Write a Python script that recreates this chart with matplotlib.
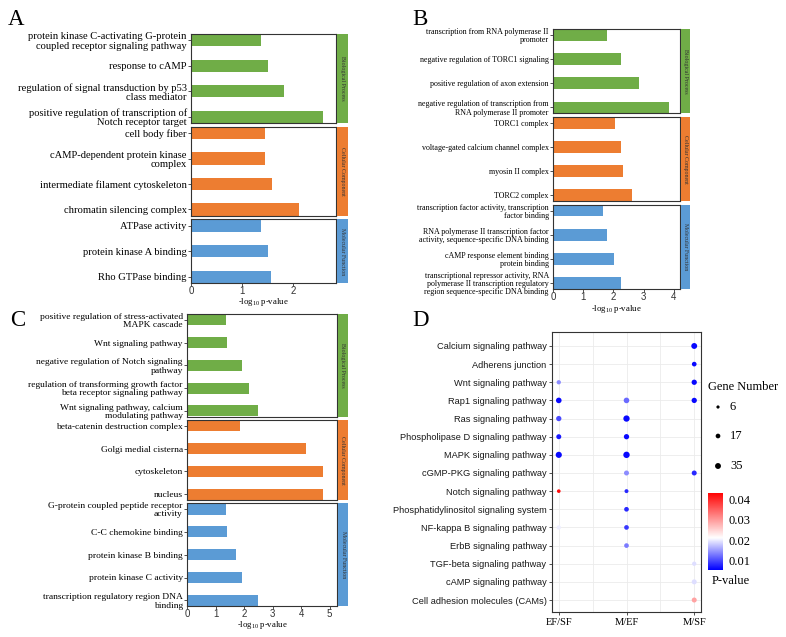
import numpy as np
import matplotlib
matplotlib.use("Agg")
import matplotlib.pyplot as plt
from matplotlib.colors import LinearSegmentedColormap, TwoSlopeNorm

plt.rcParams['font.family'] = ['Liberation Serif', 'DejaVu Serif']
plt.rcParams['mathtext.fontset'] = 'custom'
plt.rcParams['mathtext.rm'] = 'Liberation Serif'
plt.rcParams['mathtext.default'] = 'regular'

W, H = 786, 637
SANS = 'Liberation Sans'
GREEN, ORANGE, BLUE = '#70AD47', '#ED7D31', '#5B9BD5'
FACET_NAMES = ['Biological Process', 'Cellular Component', 'Molecular Function']

# ---- panel A data
a_bp = ["protein kinase C-activating G-protein\ncoupled receptor signaling pathway",
        "response to cAMP",
        "regulation of signal transduction by p53\nclass mediator",
        "positive regulation of transcription of\nNotch receptor target"]
a_bp_val = [1.37, 1.51, 1.83, 2.58]
a_cc = ["cell body fiber", "cAMP-dependent protein kinase\ncomplex",
        "intermediate filament cytoskeleton", "chromatin silencing complex"]
a_cc_val = [1.44, 1.44, 1.58, 2.12]
a_mf = ["ATPase activity", "protein kinase A binding", "Rho GTPase binding"]
a_mf_val = [1.37, 1.51, 1.56]

# ---- panel B data
b_bp = ["transcription from RNA polymerase II\npromoter",
        "negative regulation of TORC1 signaling",
        "positive regulation of axon extension",
        "negative regulation of transcription from\nRNA polymerase II promoter"]
b_bp_val = [1.80, 2.25, 2.84, 3.83]
b_cc = ["TORC1 complex", "voltage-gated calcium channel complex",
        "myosin II complex", "TORC2 complex"]
b_cc_val = [2.05, 2.25, 2.32, 2.62]
b_mf = ["transcription factor activity, transcription\nfactor binding",
        "RNA polymerase II transcription factor\nactivity, sequence-specific DNA binding",
        "cAMP response element binding\nprotein binding",
        "transcriptional repressor activity, RNA\npolymerase II transcription regulatory\nregion sequence-specific DNA binding"]
b_mf_val = [1.65, 1.80, 2.03, 2.24]

# ---- panel C data
c_bp = ["positive regulation of stress-activated\nMAPK cascade",
        "Wnt signaling pathway",
        "negative regulation of Notch signaling\npathway",
        "regulation of transforming growth factor\nbeta receptor signaling pathway",
        "Wnt signaling pathway, calcium\nmodulating pathway"]
c_bp_val = [1.36, 1.40, 1.93, 2.19, 2.48]
c_cc = ["beta-catenin destruction complex", "Golgi medial cisterna",
        "cytoskeleton", "nucleus"]
c_cc_val = [1.87, 4.17, 4.78, 4.78]
c_mf = ["G-protein coupled peptide receptor\nactivity", "C-C chemokine binding",
        "protein kinase B binding", "protein kinase C activity",
        "transcription regulatory region DNA\nbinding"]
c_mf_val = [1.36, 1.40, 1.72, 1.92, 2.48]

# ---- panel D data
pathways = ["Calcium signaling pathway", "Adherens junction", "Wnt signaling pathway",
            "Rap1 signaling pathway", "Ras signaling pathway",
            "Phospholipase D signaling pathway", "MAPK signaling pathway",
            "cGMP-PKG signaling pathway", "Notch signaling pathway",
            "Phosphatidylinositol signaling system", "NF-kappa B signaling pathway",
            "ErbB signaling pathway", "TGF-beta signaling pathway",
            "cAMP signaling pathway", "Cell adhesion molecules (CAMs)"]
groups = ["EF/SF", "M/EF", "M/SF"]
d_path = ["Calcium signaling pathway", "Adherens junction",
          "Wnt signaling pathway", "Wnt signaling pathway",
          "Rap1 signaling pathway", "Rap1 signaling pathway", "Rap1 signaling pathway",
          "Ras signaling pathway", "Ras signaling pathway",
          "Phospholipase D signaling pathway", "Phospholipase D signaling pathway",
          "MAPK signaling pathway", "MAPK signaling pathway",
          "cGMP-PKG signaling pathway", "cGMP-PKG signaling pathway",
          "Notch signaling pathway", "Notch signaling pathway",
          "Phosphatidylinositol signaling system",
          "NF-kappa B signaling pathway", "NF-kappa B signaling pathway",
          "ErbB signaling pathway", "TGF-beta signaling pathway",
          "cAMP signaling pathway", "Cell adhesion molecules (CAMs)"]
d_group = ["M/SF", "M/SF",
           "EF/SF", "M/SF",
           "EF/SF", "M/EF", "M/SF",
           "EF/SF", "M/EF",
           "EF/SF", "M/EF",
           "EF/SF", "M/EF",
           "M/EF", "M/SF",
           "EF/SF", "M/EF",
           "M/EF",
           "EF/SF", "M/EF",
           "M/EF", "M/SF",
           "M/SF", "M/SF"]
d_genes = [35, 17,
           13, 25,
           30, 30, 25,
           25, 43,
           21, 25,
           40, 45,
           21, 21,
           8, 10,
           17,
           13, 17,
           17, 13,
           21, 21]
d_pval = [0.006, 0.006,
          0.014, 0.006,
          0.006, 0.012, 0.006,
          0.010, 0.006,
          0.007, 0.006,
          0.006, 0.006,
          0.014, 0.008,
          0.042, 0.008,
          0.008,
          0.020, 0.009,
          0.013, 0.019,
          0.019, 0.029]
legend_genes = [6, 17, 35]
cbar_ticks = [0.01, 0.02, 0.03, 0.04]

fig = plt.figure(figsize=(W / 100, H / 100), dpi=100)


def px_axes(x0, y0, x1, y1):
    return fig.add_axes([x0 / W, 1 - y1 / H, (x1 - x0) / W, (y1 - y0) / H])


def go_panel(facets, x0, x1, y0, y1, xmax, xticks, fs, s0, s1, xlab_y, gap=3.5):
    units = [len(f[0]) - 0.5 for f in facets]
    avail = (y1 - y0) - gap * (len(facets) - 1)
    top = y0
    for k, ((labels, vals, col), u) in enumerate(zip(facets, units)):
        h = avail * u / sum(units)
        ax = px_axes(x0, top, x1, top + h)
        n = len(labels)
        pos = np.arange(n)[::-1]
        ax.barh(pos, vals, height=0.48, color=col, edgecolor='none')
        ax.set_ylim(-0.25, n - 0.75)
        ax.set_xlim(0, xmax)
        ax.set_yticks(pos)
        ax.set_yticklabels(labels, fontsize=fs)
        for t in ax.get_yticklabels():
            t.set_linespacing(1.05)
        ax.tick_params(axis='y', length=2, width=0.6, color='#333333', pad=1)
        for sp in ax.spines.values():
            sp.set_color('#333333')
            sp.set_linewidth(0.8)
        if k == len(facets) - 1:
            ax.set_xticks(xticks)
            ax.set_xticklabels([str(t) for t in xticks], fontsize=7, family=SANS, color='#333333')
            ax.tick_params(axis='x', length=2, width=0.6, color='#333333', pad=0.5)
        else:
            ax.set_xticks([])
        sax = px_axes(s0, top, s1, top + h)
        sax.set_facecolor(col)
        sax.set_xticks([])
        sax.set_yticks([])
        for sp in sax.spines.values():
            sp.set_visible(False)
        sax.text(0.5, 0.5, FACET_NAMES[k], rotation=270, ha='center', va='center',
                 fontsize=4.2, color='#333333', transform=sax.transAxes)
        top += h + gap
    fig.text((x0 + x1) / 2 / W, 1 - xlab_y / H, r'-log$_{10}$ p-value', ha='center', va='center', fontsize=6.3)


go_panel([(a_bp, a_bp_val, GREEN), (a_cc, a_cc_val, ORANGE), (a_mf, a_mf_val, BLUE)],
         191, 336, 34, 283, 2.84, [0, 1, 2], 7.6, 337, 348, 302)
go_panel([(b_bp, b_bp_val, GREEN), (b_cc, b_cc_val, ORANGE), (b_mf, b_mf_val, BLUE)],
         553, 680, 29, 289, 4.2, [0, 1, 2, 3, 4], 5.8, 681, 690, 309)
go_panel([(c_bp, c_bp_val, GREEN), (c_cc, c_cc_val, ORANGE), (c_mf, c_mf_val, BLUE)],
         187, 337, 314, 606, 5.26, [0, 1, 2, 3, 4, 5], 6.8, 338, 348, 625)

# ---- panel D
cmap = LinearSegmentedColormap.from_list('bwr_gg', ['#0000FF', '#FFFFFF', '#FF0000'])
norm = TwoSlopeNorm(vmin=0.0055, vcenter=0.021, vmax=0.043)


def dot_size(g):
    d = 2.6 + 3.8 * np.sqrt((np.asarray(g, float) - 5) / 40)
    return (d * 72 / 100) ** 2


axd = px_axes(552, 332, 701, 612)
ypos = {p: len(pathways) - 1 - i for i, p in enumerate(pathways)}
xpos = {g: i + 1 for i, g in enumerate(groups)}
axd.scatter([xpos[g] for g in d_group], [ypos[p] for p in d_path], s=dot_size(d_genes),
            c=d_pval, cmap=cmap, norm=norm, edgecolors='none', zorder=3)
axd.set_xlim(0.9, 3.1)
axd.set_ylim(-0.66, len(pathways) - 1 + 0.77)
axd.set_xticks([1, 2, 3])
axd.set_xticklabels(groups, fontsize=7.6)
axd.set_xticks([1.5, 2.5], minor=True)
axd.set_yticks(range(len(pathways)))
axd.set_yticklabels(pathways[::-1], fontsize=6.7, family=SANS, color='#1a1a1a')
axd.grid(True, which='both', color='#EBEBEB', linewidth=0.6, zorder=0)
axd.tick_params(which='major', length=2, width=0.6, color='#333333', pad=2)
axd.tick_params(which='minor', length=0)
for sp in axd.spines.values():
    sp.set_color('#333333')
    sp.set_linewidth(0.8)

# size legend
fig.text(708 / W, 1 - 387 / H, 'Gene Number', fontsize=9, va='center')
lax = px_axes(705, 395, 760, 478)
lax.set_xlim(0, 1)
lax.set_ylim(0, 1)
lax.axis('off')
for g, yy in zip(legend_genes, [407, 436, 466]):
    yf = (478 - yy) / (478 - 395)
    lax.scatter([(718 - 705) / 55], [yf], s=dot_size(g), color='black', edgecolors='none')
    lax.text((730 - 705) / 55, yf, str(g), fontsize=9, va='center')

# colour bar
cax = px_axes(708, 493, 723, 570)
grad = np.linspace(0.0055, 0.043, 256).reshape(-1, 1)
cax.imshow(grad, aspect='auto', cmap=cmap, norm=norm, origin='lower',
           extent=[0, 1, 0.0055, 0.043])
cax.set_xticks([])
cax.yaxis.tick_right()
cax.set_yticks(cbar_ticks)
cax.set_yticklabels([f'{t:.2f}' for t in cbar_ticks], fontsize=9)
cax.tick_params(axis='y', length=0, pad=4)
for sp in cax.spines.values():
    sp.set_visible(False)
fig.text(712 / W, 1 - 581 / H, 'P-value', fontsize=9, va='center')

# panel letters
for letter, lx, ly in [('A', 8, 25), ('B', 412, 25), ('C', 10, 326), ('D', 412, 326)]:
    fig.text(lx / W, 1 - ly / H, letter, fontsize=16.5, va='baseline')

fig.savefig('out.png', dpi=100, facecolor='white')
